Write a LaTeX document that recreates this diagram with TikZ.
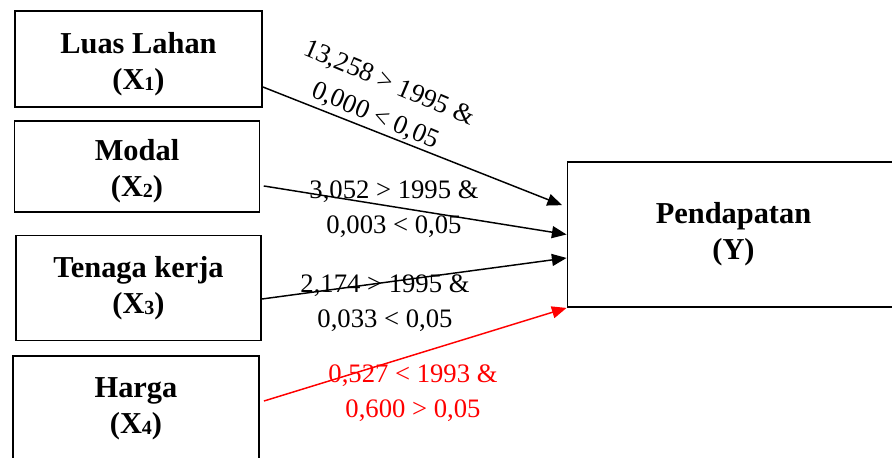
\documentclass[tikz,border=0pt]{standalone}
\usepackage{fontspec}
\setmainfont{Liberation Serif}
\usetikzlibrary{arrows.meta}
\newcommand\subx[1]{\raisebox{-0.8pt}{\fontsize{15}{15}\selectfont #1}}
\newcommand\topstrut{\rule{0pt}{23pt}}
\begin{document}
\begin{tikzpicture}[x=0.75pt,y=-0.75pt,
  varbox/.style={draw,line width=1.4pt,inner sep=0pt,align=center,
    font=\fontsize{22.8}{27}\selectfont\bfseries},
  lab/.style={align=center,inner sep=0pt,font=\fontsize{20}{26.5}\selectfont},
  conn/.style={line width=1.1pt,-{Triangle[length=11pt,width=9pt]}}]
\useasboundingbox (0,0) rectangle (892,457);
\node[varbox,minimum width=185.25pt,minimum height=72pt] (x1) at (138.5,59) {\topstrut Luas Lahan\\(X\subx{1})};
\node[varbox,minimum width=183.75pt,minimum height=68.25pt] (x2) at (137,166.5) {\topstrut Modal\\(X\subx{2})};
\node[varbox,minimum width=183.75pt,minimum height=78.75pt] (x3) at (138.5,288) {Tenaga kerja\\(X\subx{3})};
\node[varbox,minimum width=184.5pt,minimum height=79.5pt] (x4) at (136,409) {Harga\\(X\subx{4})};
\node[varbox,minimum width=249pt,minimum height=108.75pt] (y) at (733.5,234.5) {Pendapatan\\(Y)};

\draw[conn] ([yshift=-21pt]x1.east) -- ([xshift=-3.4pt,yshift=22pt]y.west);
\draw[conn] ([xshift=2.5pt,yshift=-14.6pt]x2.east) -- (y.west);
\draw[conn] ([yshift=-8.25pt]x3.east) -- ([yshift=-17.6pt]y.west);
\draw[conn,red] ([xshift=3pt,yshift=6pt]x4.east) -- (y.south west);

\node[lab,rotate=-23] (l1) at (382,100) {13,258 > 1995 \&\\0,000 < 0,05};
\node[lab] (l2) at (394,209) {3,052 > 1995 \&\\0,003 < 0,05};
\node[lab] (l3) at (385,303) {2,174 > 1995 \&\\0,033 < 0,05};
\node[lab,text=red] (l4) at (413,393) {0,527 < 1993 \&\\0,600 > 0,05};
\end{tikzpicture}
\end{document}
